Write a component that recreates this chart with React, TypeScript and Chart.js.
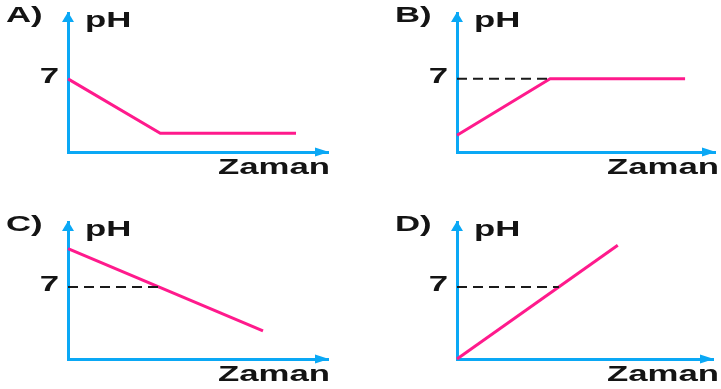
import React, { useEffect, useRef } from "react";
import { Chart, registerables } from "chart.js";

Chart.register(...registerables);

// ---- data ----
const X_MAX = 10;
const Y_MAX = 13.3;
const NEUTRAL_PH = 7;
const panelLabels = ["A)", "B)", "C)", "D)"];
const yAxisLabel = "pH";
const xAxisLabel = "Zaman";
const tickLabels = ["7"];

const aTime = [0, 3.55, 8.77];
const aPH = [7, 1.8, 1.8];
const bTime = [0, 3.61, 8.84];
const bPH = [1.6, 7, 7];
const cTime = [0, 7.5];
const cPH = [10.72, 2.73];
const dTime = [0, 6.28];
const dPH = [0, 11.04];

const aDashTime: number[] = [];
const bDashTime = [0, 3.61];
const cDashTime = [0, 3.48];
const dDashTime = [0, 3.98];

// ---- styles / layout ----
const CYAN = "#0aa8f5";
const MAGENTA = "#ff1a8c";
const TEXT = "#141414";
const STRETCH = 1.58;
const FONT = "bold 22px 'Liberation Sans', Arial, sans-serif";

type Panel = {
  label: string;
  time: number[];
  ph: number[];
  dash: number[];
  left: number;
  top: number;
  width: number;
  height: number;
  pad: { left: number; right: number; top: number; bottom: number };
};

const panels: Panel[] = [
  { label: panelLabels[0], time: aTime, ph: aPH, dash: aDashTime, left: 0, top: 0, width: 360, height: 195, pad: { left: 68, right: 32, top: 13, bottom: 43 } },
  { label: panelLabels[1], time: bTime, ph: bPH, dash: bDashTime, left: 360, top: 0, width: 361, height: 195, pad: { left: 97, right: 6, top: 13, bottom: 43 } },
  { label: panelLabels[2], time: cTime, ph: cPH, dash: cDashTime, left: 0, top: 195, width: 360, height: 194, pad: { left: 68, right: 32, top: 27, bottom: 30 } },
  { label: panelLabels[3], time: dTime, ph: dPH, dash: dDashTime, left: 360, top: 195, width: 361, height: 194, pad: { left: 97, right: 8, top: 27, bottom: 30 } },
];

function drawStretched(ctx: CanvasRenderingContext2D, text: string, x: number, y: number, alignRight = false) {
  const w = ctx.measureText(text).width * STRETCH;
  const sx = alignRight ? x - w : x;
  ctx.save();
  ctx.translate(sx, y);
  ctx.scale(STRETCH, 1);
  ctx.fillText(text, 0, 0);
  ctx.restore();
}

const decorPlugin = {
  id: "decor",
  afterDraw(chart: any, _args: any, opts: any) {
    const ctx: CanvasRenderingContext2D = chart.ctx;
    const { left, right, top, bottom } = chart.chartArea;
    const ys = chart.scales.y;
    ctx.save();
    // arrowheads
    ctx.fillStyle = CYAN;
    ctx.beginPath();
    ctx.moveTo(left, top - 1);
    ctx.lineTo(left - 6, top + 9);
    ctx.lineTo(left + 6, top + 9);
    ctx.closePath();
    ctx.fill();
    ctx.beginPath();
    ctx.moveTo(right + 1, bottom);
    ctx.lineTo(right - 13, bottom - 4.5);
    ctx.lineTo(right - 13, bottom + 4.5);
    ctx.closePath();
    ctx.fill();
    // texts
    ctx.fillStyle = TEXT;
    ctx.font = FONT;
    ctx.textBaseline = "alphabetic";
    ctx.textAlign = "left";
    drawStretched(ctx, opts.label, left - 62, top + 9);
    drawStretched(ctx, yAxisLabel, left + 17, top + 14);
    drawStretched(ctx, tickLabels[0], left - 9, ys.getPixelForValue(NEUTRAL_PH) + 4, true);
    drawStretched(ctx, xAxisLabel, left + 150, bottom + 22);
    ctx.restore();
  },
};

function PanelChart({ p }: { p: Panel }) {
  const ref = useRef<HTMLCanvasElement | null>(null);
  useEffect(() => {
    if (!ref.current) return;
    const datasets: any[] = [];
    if (p.dash.length) {
      datasets.push({
        data: p.dash.map((t) => ({ x: t, y: NEUTRAL_PH })),
        borderColor: "#1a1a1a",
        borderWidth: 2,
        borderDash: [10, 6],
        pointRadius: 0,
        clip: false,
      });
    }
    datasets.push({
      data: p.time.map((t, i) => ({ x: t, y: p.ph[i] })),
      borderColor: MAGENTA,
      borderWidth: 3,
      pointRadius: 0,
      tension: 0,
      clip: false,
    });
    const chart = new Chart(ref.current, {
      type: "line",
      data: { datasets },
      options: {
        animation: false,
        responsive: false,
        devicePixelRatio: 1,
        layout: { padding: p.pad },
        plugins: {
          legend: { display: false },
          tooltip: { enabled: false },
          decor: { label: p.label },
        } as any,
        scales: {
          x: {
            type: "linear",
            min: 0,
            max: X_MAX,
            grid: { display: false, drawTicks: false },
            ticks: { display: false },
            border: { display: true, color: CYAN, width: 3 },
          },
          y: {
            type: "linear",
            min: 0,
            max: Y_MAX,
            grid: { display: false, drawTicks: false },
            ticks: { display: false },
            border: { display: true, color: CYAN, width: 3 },
          },
        },
      },
      plugins: [decorPlugin],
    });
    return () => chart.destroy();
  }, [p]);
  return (
    <canvas
      ref={ref}
      width={p.width}
      height={p.height}
      style={{ position: "absolute", left: p.left, top: p.top, width: p.width, height: p.height }}
    />
  );
}

export default function App() {
  return (
    <div style={{ position: "fixed", left: 0, top: 0, width: 721, height: 389, background: "#fff", overflow: "hidden" }}>
      {panels.map((p) => (
        <PanelChart key={p.label} p={p} />
      ))}
    </div>
  );
}
